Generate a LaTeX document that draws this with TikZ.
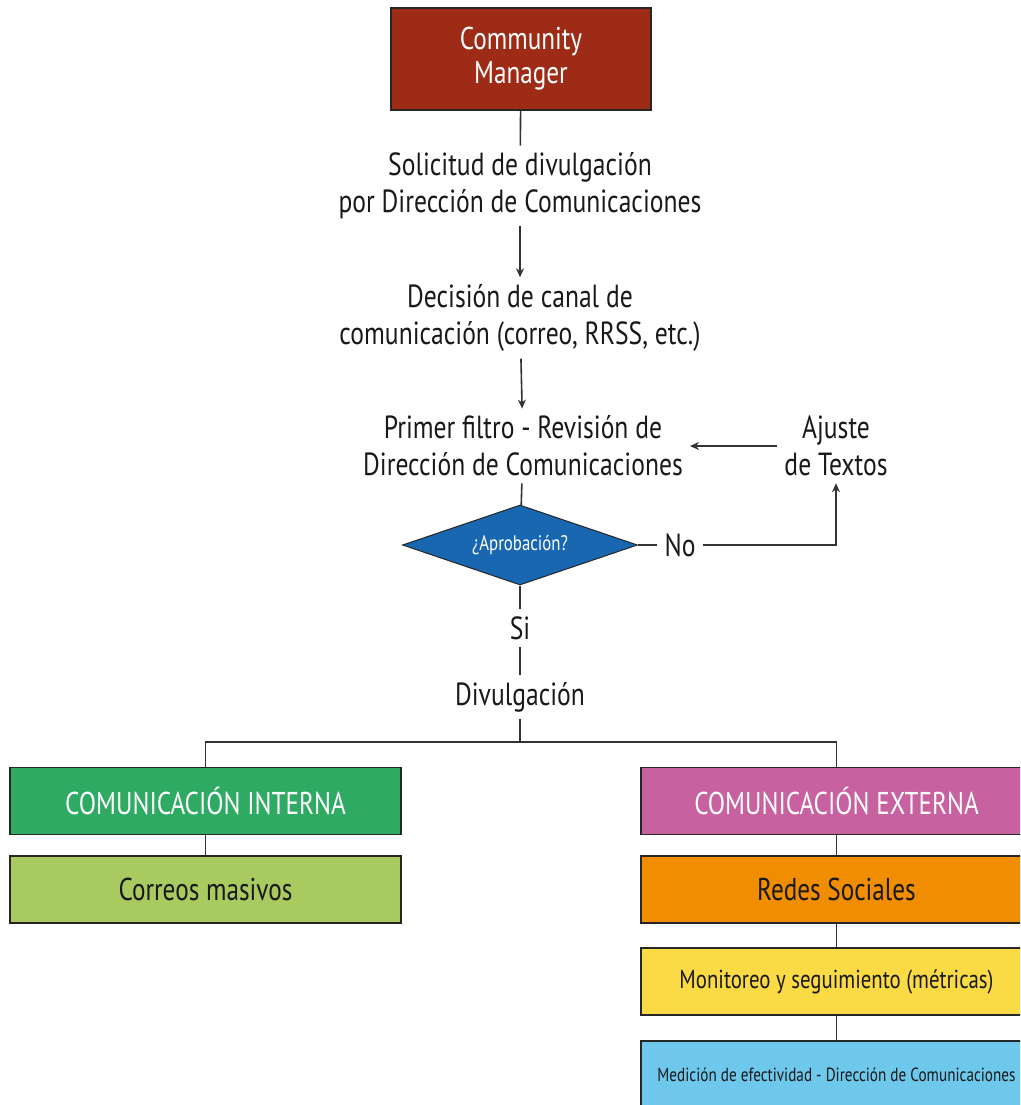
\documentclass[tikz,border=0pt]{standalone}
\usepackage{fontspec}
\setmainfont{PT Sans}[FakeStretch=0.8]
\usetikzlibrary{shapes.geometric,arrows.meta}
\definecolor{cmred}{HTML}{9E2B16}
\definecolor{aprobblue}{HTML}{1A67B1}
\definecolor{intgreen}{HTML}{2EAA63}
\definecolor{corrgreen}{HTML}{A9CA5F}
\definecolor{extpink}{HTML}{C7619F}
\definecolor{redorange}{HTML}{F18D00}
\definecolor{monyellow}{HTML}{FADB45}
\definecolor{medblue}{HTML}{6EC8EC}
\begin{document}
\begin{tikzpicture}[x=1pt,y=-1pt,
  box/.style={draw=black!85, line width=1.5pt, minimum width=391pt, minimum height=67pt, inner sep=0pt, text=black!90, font=\fontsize{31.5}{34}\selectfont},
  txt/.style={align=center, text=black!90, font=\fontsize{32}{37}\selectfont, inner sep=7pt},
  con/.style={draw=black!80, line width=1.6pt},
  arr/.style={con, -{Stealth[length=9pt,width=8pt]}}]
\useasboundingbox (0,0) rectangle (1020,1105);
\clip (0,0) rectangle (1020,1105);

% flujo central
\node[box, fill=cmred, text=white, minimum width=260pt, minimum height=102pt, align=center] (cm) at (521,59) {Community\\Manager};
\node[txt] (solicitud) at (520,186) {Solicitud de divulgación\\por Dirección de Comunicaciones};
\node[txt] (decision) at (520,318) {Decisión de canal de\\comunicación (correo, RRSS, etc.)};
\node[txt] (filtro) at (523,446) {Primer filtro - Revisión de\\Dirección de Comunicaciones};
\node[txt] (ajuste) at (836,446) {Ajuste\\de Textos};
\node[diamond, draw=black!85, line width=1pt, fill=aprobblue, text=white, aspect=3, inner sep=0pt,
  minimum width=235pt, minimum height=80pt, font=\fontsize{21}{24}\selectfont] (aprob) at (520,545) {¿Aprobación?};
\node[txt] (no) at (680,545) {No};
\node[txt] (si) at (520,628) {Si};
\node[txt] (divulg) at (520,697) {Divulgación};
\coordinate (bus) at (520,742);

% ramas
\node[box, fill=intgreen, text=white] (interna) at (205.5,801) {COMUNICACIÓN INTERNA};
\node[box, fill=corrgreen] (correos) at (205.5,889.5) {Correos masivos};
\node[box, fill=extpink, text=white] (externa) at (836.5,801) {COMUNICACIÓN EXTERNA};
\node[box, fill=redorange] (redes) at (836.5,889.5) {Redes Sociales};
\node[box, fill=monyellow, font=\fontsize{26}{30}\selectfont] (monitoreo) at (836.5,981.5) {Monitoreo y seguimiento (métricas)};
\node[box, fill=medblue, font=\fontsize{19}{22}\selectfont] (medicion) at (836.5,1074.5) {Medición de efectividad - Dirección de Comunicaciones};

\draw[con] (cm) -- (solicitud);
\draw[arr] (solicitud) -- (decision);
\draw[arr] (decision) -- (filtro);
\draw[arr] (ajuste) -- (filtro);
\draw[con] (filtro) -- (aprob);
\draw[con] (aprob) -- (no);
\draw[arr] (no) -| (ajuste);
\draw[con] (aprob) -- (si);
\draw[con] (si) -- (divulg);
\draw[con] (divulg) -- (bus);
\draw[con] (interna) |- (bus) -| (externa);
\draw[con] (interna) -- (correos);
\foreach \a/\b in {externa/redes, redes/monitoreo, monitoreo/medicion}
  \draw[con] (\a) -- (\b);
\end{tikzpicture}
\end{document}
